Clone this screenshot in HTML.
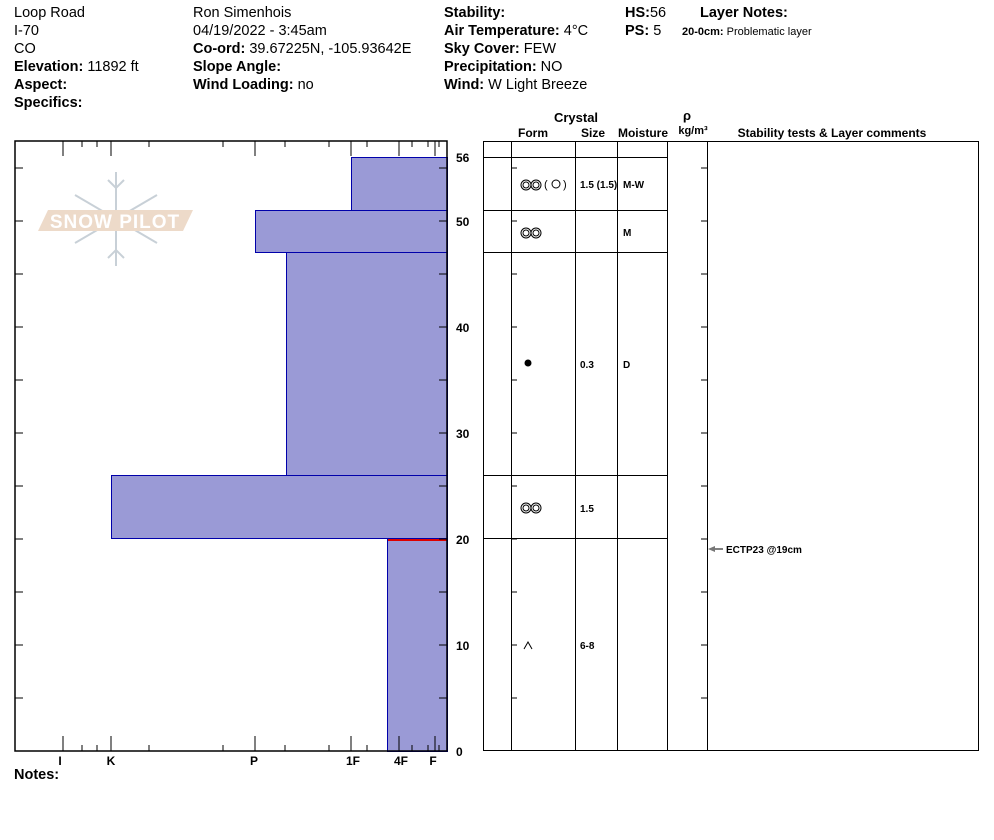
<!DOCTYPE html>
<html><head><meta charset="utf-8"><style>
html,body{margin:0;padding:0;background:#fff;}
svg{display:block;font-family:"Liberation Sans",Arial,sans-serif;}
.b{font-weight:bold}
</style></head><body>
<svg width="994" height="840" viewBox="0 0 994 840" xmlns="http://www.w3.org/2000/svg">
<g font-size="14.5" fill="#000">
<text x="14" y="17">Loop Road</text>
<text x="14" y="35">I-70</text>
<text x="14" y="53">CO</text>
<text x="14" y="71"><tspan class="b">Elevation:</tspan> 11892 ft</text>
<text x="14" y="89" class="b">Aspect:</text>
<text x="14" y="107" class="b">Specifics:</text>
<text x="193" y="17">Ron Simenhois</text>
<text x="193" y="35">04/19/2022 - 3:45am</text>
<text x="193" y="53"><tspan class="b">Co-ord:</tspan> 39.67225N, -105.93642E</text>
<text x="193" y="71" class="b">Slope Angle:</text>
<text x="193" y="89"><tspan class="b">Wind Loading:</tspan> no</text>
<text x="444" y="17" class="b">Stability:</text>
<text x="444" y="35"><tspan class="b">Air Temperature:</tspan> 4°C</text>
<text x="444" y="53"><tspan class="b">Sky Cover:</tspan> FEW</text>
<text x="444" y="71"><tspan class="b">Precipitation:</tspan> NO</text>
<text x="444" y="89"><tspan class="b">Wind:</tspan>  W Light Breeze</text>
<text x="625" y="17"><tspan class="b">HS:</tspan>56</text>
<text x="625" y="35"><tspan class="b">PS:</tspan> 5</text>
<text x="700" y="17" class="b">Layer Notes:</text>
<text x="682" y="35" font-size="11"><tspan class="b">20-0cm:</tspan> Problematic layer</text>
<text x="14" y="779" class="b">Notes:</text>
</g>
<g opacity="0.9">
<g stroke="#c3ccd3" stroke-width="2" fill="none">
<line x1="116" y1="172" x2="116" y2="266"/>
<line x1="75" y1="195" x2="157" y2="243"/>
<line x1="75" y1="243" x2="157" y2="195"/>
<polyline points="108,180 116,188 124,180"/><polyline points="108,258 116,250 124,258"/>
</g>
<polygon points="48,210 193,210 183,231 38,231" fill="#ecd6c4"/>
<text x="115" y="228" font-size="19" fill="#fff" text-anchor="middle" font-weight="bold" letter-spacing="1">SNOW PILOT</text>
</g>
<g fill="#9a9ad6" stroke="#0000aa" stroke-width="1">
<rect x="351.5" y="157.5" width="96" height="53"/>
<rect x="255.5" y="210.5" width="192" height="42"/>
<rect x="286.5" y="252.5" width="161" height="223"/>
<rect x="111.5" y="475.5" width="336" height="63"/>
<rect x="387.5" y="538.5" width="60" height="213"/>
</g>
<line x1="388" y1="540" x2="447" y2="540" stroke="#d00" stroke-width="2"/>
<g stroke="#000" stroke-width="1.5" fill="none">
<rect x="15" y="141" width="432" height="610"/>
</g>
<g stroke="#000" stroke-width="1">
<path d="M63 141v15M111 141v15M255 141v15M351 141v15M399 141v15M435 141v15"/>
<path d="M82 141v6M97 141v6M149 141v6M223 141v6M285 141v6M329 141v6M367 141v6M412 141v6M428 141v6M439 141v6"/>
<path d="M63 751v-15M111 751v-15M255 751v-15M351 751v-15M399 751v-15M435 751v-15"/>
<path d="M82 751v-6M97 751v-6M149 751v-6M223 751v-6M285 751v-6M329 751v-6M367 751v-6M412 751v-6M428 751v-6M439 751v-6"/>
<path d="M15 698h8M15 645h8M15 592h8M15 539h8M15 486h8M15 433h8M15 380h8M15 327h8M15 274h8M15 221h8M15 168h8"/>
<path d="M447 698h-8M447 645h-8M447 592h-8M447 539h-8M447 486h-8M447 433h-8M447 380h-8M447 327h-8M447 274h-8M447 221h-8M447 168h-8"/>
</g>
<g font-size="12" font-weight="bold" fill="#000">
<text x="456" y="162">56</text><text x="456" y="226">50</text><text x="456" y="332">40</text>
<text x="456" y="438">30</text><text x="456" y="544">20</text><text x="456" y="650">10</text><text x="456" y="756">0</text>
<text x="60" y="765" text-anchor="middle">I</text><text x="111" y="765" text-anchor="middle">K</text>
<text x="254" y="765" text-anchor="middle">P</text><text x="353" y="765" text-anchor="middle">1F</text>
<text x="401" y="765" text-anchor="middle">4F</text><text x="433" y="765" text-anchor="middle">F</text>
</g>
<g font-size="12" font-weight="bold" fill="#000">
<text x="576" y="122" text-anchor="middle" font-size="13">Crystal</text>
<text x="533" y="137" text-anchor="middle">Form</text>
<text x="593" y="137" text-anchor="middle">Size</text>
<text x="643" y="137" text-anchor="middle">Moisture</text>
<text x="687" y="120" text-anchor="middle" font-size="13">ρ</text>
<text x="693" y="134" text-anchor="middle" font-size="11">kg/m³</text>
<text x="832" y="137" text-anchor="middle">Stability tests &amp; Layer comments</text>
</g>
<g stroke="#000" stroke-width="1" fill="none">
<rect x="483.5" y="141.5" width="495" height="609"/>
<path d="M511.5 141v610M575.5 141v610M617.5 141v610M667.5 141v610M707.5 141v610"/>
<path d="M483 157.5h184M483 210.5h184M483 252.5h184M483 475.5h184M483 538.5h184"/>
<path d="M511 698h6M511 645h6M511 592h6M511 539h6M511 486h6M511 433h6M511 380h6M511 327h6M511 274h6M511 221h6M511 168h6"/>
<path d="M707 698h-6M707 645h-6M707 592h-6M707 539h-6M707 486h-6M707 433h-6M707 380h-6M707 327h-6M707 274h-6M707 221h-6M707 168h-6"/>
<path d="M715 549h8" />
</g>
<path d="M708 549l7-3v6z" fill="#777"/>
<g font-size="10" font-weight="bold" fill="#000">
<text x="580" y="188">1.5 (1.5)</text><text x="623" y="188">M-W</text>
<text x="623" y="236">M</text>
<text x="580" y="368">0.3</text><text x="623" y="368">D</text>
<text x="580" y="512">1.5</text>
<text x="580" y="649">6-8</text>
<text x="726" y="553">ECTP23 @19cm</text>
</g>
<g stroke="#000" fill="none" stroke-width="1">
<circle cx="526" cy="185" r="5"/><circle cx="526" cy="185" r="3"/><circle cx="536" cy="185" r="5"/><circle cx="536" cy="185" r="3"/>
<circle cx="526" cy="233" r="5"/><circle cx="526" cy="233" r="3"/><circle cx="536" cy="233" r="5"/><circle cx="536" cy="233" r="3"/>
<circle cx="526" cy="508" r="5"/><circle cx="526" cy="508" r="3"/><circle cx="536" cy="508" r="5"/><circle cx="536" cy="508" r="3"/>
<circle cx="556" cy="184" r="4"/>
<polyline points="524,649 528,642 532,649"/>
</g>
<text x="544" y="188" font-size="11">(</text><text x="563" y="188" font-size="11">)</text>
<circle cx="528" cy="363" r="3.5" fill="#000"/>
</svg>
</body></html>
